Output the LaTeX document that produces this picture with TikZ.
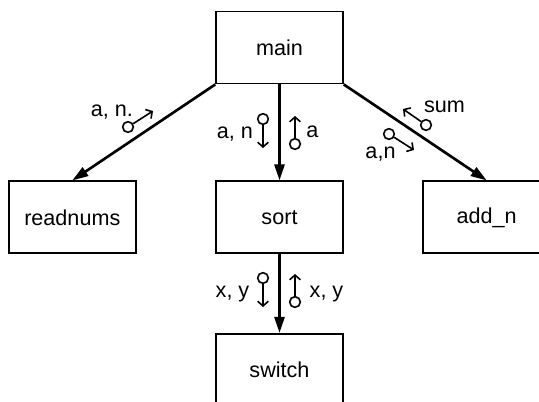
\documentclass[tikz,border=0pt]{standalone}
\usepackage{fontspec}
\setmainfont{Liberation Sans}
\usetikzlibrary{arrows.meta,positioning}

\begin{document}
\begin{tikzpicture}[
    x=0.75pt, y=-0.75pt,
    node distance=59pt and 59pt,
    font=\fontsize{16.2}{19}\selectfont,
    module/.style={draw, rectangle, line width=1.4pt, minimum width=95pt, minimum height=54pt, align=center},
    call/.style={-{Triangle[length=12pt, width=7.5pt]}, line width=2pt},
    dot/.style={draw, circle, line width=1.2pt, minimum size=8pt, inner sep=0pt},
    couple/.style={-{Straight Barb[length=3.5pt, width=8pt]}, line width=1.2pt},
    param/.style={anchor=base, inner sep=0pt}
]

    \useasboundingbox (0,0) rectangle (539,401);
    \clip (0,0) rectangle (539,401);

    \node[module] (main) at (279.5,47.5) {main};

    \node[module, below=72pt of main] (sort) {sort};
    \node[module, left=of sort] (readnums) {readnums};
    \node[module, right=of sort] (addn) {add\_n};
    \node[module, below=of sort] (switch) {switch};

    \draw[call] (main.south west) -- (readnums.north);
    \draw[call] (main.south) -- (sort.north);
    \draw[call] (main.south east) -- (addn.north);
    \draw[call] (sort.south) -- (switch.north);

    % data couples
    \node[dot] (readdot) at (128,127) {};
    \draw[couple] (readdot) -- (153,111);
    \node[param] (readin) at (112,116) {a, n.};

    \node[dot] (sortdotin) at (263,119) {};
    \draw[couple] (sortdotin) -- (263,148);
    \node[param] (sortin) at (235,138) {a, n};
    \node[dot] (sortdotout) at (295,144) {};
    \draw[couple] (sortdotout) -- (295,116);
    \node[param] (sortout) at (312.5,137) {a};

    \node[dot] (adddotout) at (426,125) {};
    \draw[couple] (adddotout) -- (403,109);
    \node[param] (addout) at (444.5,112) {sum};
    \node[dot] (adddotin) at (389,134) {};
    \draw[couple] (adddotin) -- (414,150);
    \node[param] (addin) at (380.5,158) {a,n};

    \node[dot] (swdotin) at (263,278) {};
    \draw[couple] (swdotin) -- (263,307);
    \node[param] (swin) at (232.5,297) {x, y};
    \node[dot] (swdotout) at (295,302) {};
    \draw[couple] (swdotout) -- (295,274);
    \node[param] (swout) at (326.5,297) {x, y};

\end{tikzpicture}
\end{document}
